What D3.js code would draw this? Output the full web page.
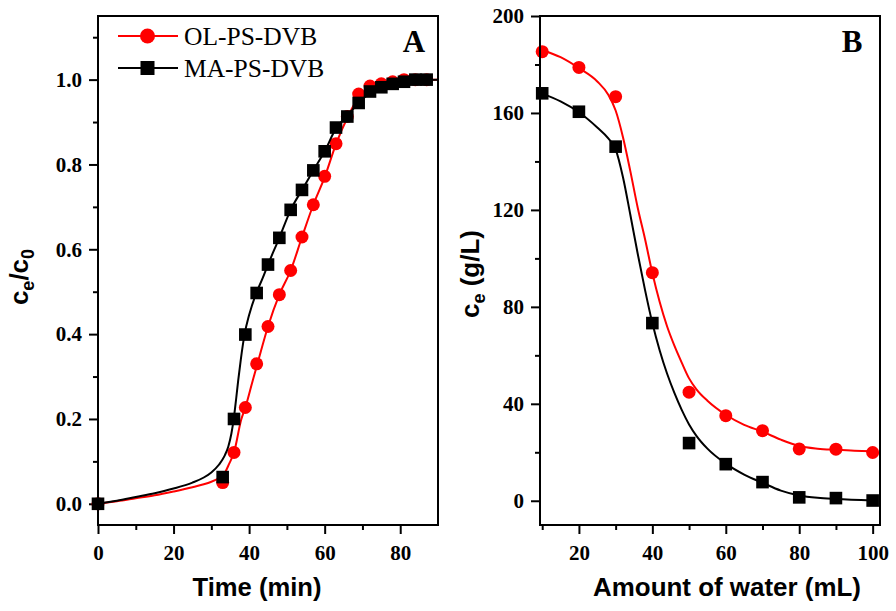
<!DOCTYPE html>
<html>
<head>
<meta charset="utf-8">
<script src="https://cdn.jsdelivr.net/npm/d3@7"></script>
<style>
  html, body { margin: 0; padding: 0; background: #ffffff; }
  svg { display: block; }
</style>
</head>
<body>
<svg id="chart" width="896" height="611"></svg>
<script>
// ---------- Panel A data ----------
const timeA = [0, 33, 36, 39, 42, 45, 48, 51, 54, 57, 60, 63, 66, 69, 72, 75, 78, 81, 84, 87];
const olA = [0, 0.05, 0.121, 0.227, 0.33, 0.418, 0.493, 0.55, 0.629, 0.705, 0.772, 0.849, 0.913, 0.966, 0.985, 0.99, 0.995, 1.0, 1.0, 1.0];
const maA = [0, 0.063, 0.2, 0.399, 0.497, 0.564, 0.627, 0.693, 0.74, 0.786, 0.831, 0.887, 0.913, 0.945, 0.972, 0.982, 0.99, 0.995, 1.0, 1.0];

// fitted curves
const fitOlAx = [0, 5, 10, 15, 20, 25, 28, 30, 32, 33.1, 34.8, 36, 37.9, 39, 41, 42.2, 45, 48, 51, 54, 57, 60, 63, 66, 69, 72, 75, 78, 81, 90];
const fitOlAy = [0, 0.006, 0.013, 0.02, 0.029, 0.039, 0.046, 0.052, 0.06, 0.066, 0.096, 0.121, 0.198, 0.227, 0.292, 0.33, 0.418, 0.493, 0.55, 0.629, 0.705, 0.77, 0.848, 0.91, 0.958, 0.982, 0.992, 0.997, 1.0, 1.0];
const fitMaAx = [0, 5, 10, 15, 20, 25, 28, 30, 32, 33.5, 34.5, 35.3, 36, 36.6, 37.1, 37.8, 38.8, 40, 41.9, 43.5, 45, 48, 51, 54, 57, 60, 63, 66, 69, 72, 75, 78, 81, 84, 90];
const fitMaAy = [0, 0.007, 0.016, 0.025, 0.036, 0.05, 0.062, 0.074, 0.092, 0.113, 0.135, 0.165, 0.205, 0.25, 0.29, 0.34, 0.4, 0.445, 0.497, 0.53, 0.564, 0.627, 0.693, 0.74, 0.786, 0.831, 0.885, 0.915, 0.945, 0.968, 0.98, 0.99, 0.995, 0.999, 1.0];

// ---------- Panel B data ----------
const waterB = [10, 20, 30, 40, 50, 60, 70, 80, 90, 100];
const olB = [185.3, 178.8, 166.7, 94.1, 44.8, 35.1, 28.9, 21.4, 21.3, 19.9];
const maB = [168.1, 160.5, 146.1, 73.3, 23.8, 15.1, 7.7, 1.4, 1.1, 0.1];

const fitOlBx = [10, 15, 20, 25, 28, 30, 32, 34, 36, 38, 40, 42, 44, 46, 48, 50, 52, 55, 60, 65, 70, 75, 80, 85, 90, 95, 100];
const fitOlBy = [186, 183, 178.5, 173, 167.5, 161, 150, 136, 121, 108, 94, 82, 72, 64, 57, 50.5, 46, 41.3, 35.5, 31.3, 28.5, 25.2, 22.6, 21.5, 21, 20.6, 20.4];
const fitMaBx = [10, 15, 20, 25, 28, 30, 32, 34, 36, 38, 40, 42, 44, 46, 48, 50, 52, 55, 60, 65, 70, 75, 80, 85, 90, 100];
const fitMaBy = [168, 164.8, 160.3, 154, 149.5, 145, 133.5, 118, 102, 87, 73.3, 62, 52.5, 44.5, 37.5, 31.5, 26.8, 21.5, 15.3, 10.8, 7.4, 4.2, 2.2, 1.2, 0.7, 0.1];

// ---------- ticks / labels ----------
const tickAxMajor = [0, 20, 40, 60, 80];
const tickAxMinor = [10, 30, 50, 70];
const tickAyMajor = [0, 0.2, 0.4, 0.6, 0.8, 1.0];
const tickAyMinor = [0.1, 0.3, 0.5, 0.7, 0.9, 1.1];
const tickBxMajor = [20, 40, 60, 80, 100];
const tickBxMinor = [10, 30, 50, 70, 90];
const tickByMajor = [0, 40, 80, 120, 160, 200];
const tickByMinor = [20, 60, 100, 140, 180];
const seriesNames = ["OL-PS-DVB", "MA-PS-DVB"];
const seriesColors = ["#ff0000", "#000000"];

const svg = d3.select("#chart");
const serif = "'Liberation Serif','Times New Roman',serif";
const sans = "'Liberation Sans',Arial,sans-serif";

function drawPanel(cfg) {
  const x = d3.scaleLinear().domain(cfg.xDomain).range([cfg.left, cfg.right]);
  const y = d3.scaleLinear().domain(cfg.yDomain).range([cfg.bottom, cfg.top]);
  const g = svg.append("g");

  const styleAxis = sel => {
    sel.select(".domain").remove();
    sel.selectAll("line").attr("stroke", "#000").attr("stroke-width", 2);
    sel.selectAll("text").attr("fill", "#000").style("font-family", serif)
      .style("font-weight", "bold").style("font-size", "21px");
  };
  g.append("g").attr("transform", `translate(0,${cfg.bottom})`)
    .call(d3.axisBottom(x).tickValues(cfg.xMinor).tickSize(5).tickFormat(""))
    .call(styleAxis);
  g.append("g").attr("transform", `translate(0,${cfg.bottom})`)
    .call(d3.axisBottom(x).tickValues(cfg.xMajor).tickSize(9).tickPadding(11).tickFormat(cfg.xFmt))
    .call(styleAxis);
  g.append("g").attr("transform", `translate(${cfg.left},0)`)
    .call(d3.axisLeft(y).tickValues(cfg.yMinor).tickSize(5).tickFormat(""))
    .call(styleAxis);
  g.append("g").attr("transform", `translate(${cfg.left},0)`)
    .call(d3.axisLeft(y).tickValues(cfg.yMajor).tickSize(9).tickPadding(7).tickFormat(cfg.yFmt))
    .call(styleAxis);

  const line = d3.line().x(d => x(d[0])).y(d => y(d[1])).curve(d3.curveMonotoneX);

  cfg.series.forEach((s, i) => {
    const fit = s.fitX.map((v, k) => [v, s.fitY[k]]);
    g.append("path").attr("d", line(fit)).attr("fill", "none")
      .attr("stroke", seriesColors[i]).attr("stroke-width", 2);
    const pts = s.xs.map((v, k) => [v, s.ys[k]]);
    if (i === 0) {
      g.selectAll(null).data(pts).enter().append("circle")
        .attr("cx", d => x(d[0])).attr("cy", d => y(d[1])).attr("r", 6.5)
        .attr("fill", seriesColors[i]);
    } else {
      g.selectAll(null).data(pts).enter().append("rect")
        .attr("x", d => x(d[0]) - 6.3).attr("y", d => y(d[1]) - 6.3)
        .attr("width", 12.6).attr("height", 12.6)
        .attr("fill", seriesColors[i]);
    }
  });

  g.append("rect").attr("x", cfg.left).attr("y", cfg.top)
    .attr("width", cfg.right - cfg.left).attr("height", cfg.bottom - cfg.top)
    .attr("fill", "none").attr("stroke", "#000").attr("stroke-width", 2);

  g.append("text").attr("x", cfg.letterX).attr("y", 52).attr("text-anchor", "middle")
    .style("font-family", serif).style("font-weight", "bold").style("font-size", "31px")
    .text(cfg.letter);

  g.append("text").attr("x", cfg.xTitleX).attr("y", 596).attr("text-anchor", "middle")
    .attr("textLength", cfg.xTitleLen).attr("lengthAdjust", "spacingAndGlyphs")
    .style("font-family", sans).style("font-weight", "bold").style("font-size", "25px")
    .text(cfg.xTitle);

  const yt = g.append("text")
    .attr("transform", `translate(${cfg.yTitleX},${cfg.yTitleY}) rotate(-90)`)
    .attr("text-anchor", "middle")
    .style("font-family", sans).style("font-weight", "bold").style("font-size", "26px");
  cfg.yTitle(yt);
  return { x, y };
}

drawPanel({
  left: 98, right: 438, top: 16, bottom: 525,
  xDomain: [0, 90], yDomain: [-0.05, 1.15],
  xMajor: tickAxMajor, xMinor: tickAxMinor, yMajor: tickAyMajor, yMinor: tickAyMinor,
  xFmt: d3.format("d"), yFmt: d3.format(".1f"),
  series: [
    { xs: timeA, ys: olA, fitX: fitOlAx, fitY: fitOlAy },
    { xs: timeA, ys: maA, fitX: fitMaAx, fitY: fitMaAy }
  ],
  letter: "A", letterX: 414,
  xTitle: "Time (min)", xTitleX: 257, xTitleLen: 129,
  yTitleX: 28, yTitleY: 277,
  yTitle: t => {
    t.append("tspan").text("c");
    t.append("tspan").attr("dy", 6).style("font-size", "18px").text("e");
    t.append("tspan").attr("dy", -6).text("/c");
    t.append("tspan").attr("dy", 6).style("font-size", "18px").text("0");
  }
});

drawPanel({
  left: 540, right: 880, top: 16, bottom: 525,
  xDomain: [9.4, 102], yDomain: [-10, 200],
  xMajor: tickBxMajor, xMinor: tickBxMinor, yMajor: tickByMajor, yMinor: tickByMinor,
  xFmt: d3.format("d"), yFmt: d3.format("d"),
  series: [
    { xs: waterB, ys: olB, fitX: fitOlBx, fitY: fitOlBy },
    { xs: waterB, ys: maB, fitX: fitMaBx, fitY: fitMaBy }
  ],
  letter: "B", letterX: 852,
  xTitle: "Amount of water (mL)", xTitleX: 727, xTitleLen: 268,
  yTitleX: 479, yTitleY: 274,
  yTitle: t => {
    t.append("tspan").text("c");
    t.append("tspan").attr("dy", 6).style("font-size", "18px").text("e");
    t.append("tspan").attr("dy", -6).text(" (g/L)");
  }
});

// ---------- legend (panel A) ----------
const leg = svg.append("g");
const legRows = [36, 68];
seriesNames.forEach((name, i) => {
  const yy = legRows[i];
  leg.append("line").attr("x1", 118).attr("x2", 178).attr("y1", yy).attr("y2", yy)
    .attr("stroke", seriesColors[i]).attr("stroke-width", 2);
  if (i === 0) {
    leg.append("circle").attr("cx", 147.5).attr("cy", yy).attr("r", 7.5).attr("fill", seriesColors[i]);
  } else {
    leg.append("rect").attr("x", 147.5 - 7).attr("y", yy - 7).attr("width", 14).attr("height", 14)
      .attr("fill", seriesColors[i]);
  }
  leg.append("text").attr("x", 184).attr("y", yy + 9)
    .style("font-family", serif).style("font-size", "25.5px").attr("fill", "#000")
    .text(name);
});
</script>
</body>
</html>
